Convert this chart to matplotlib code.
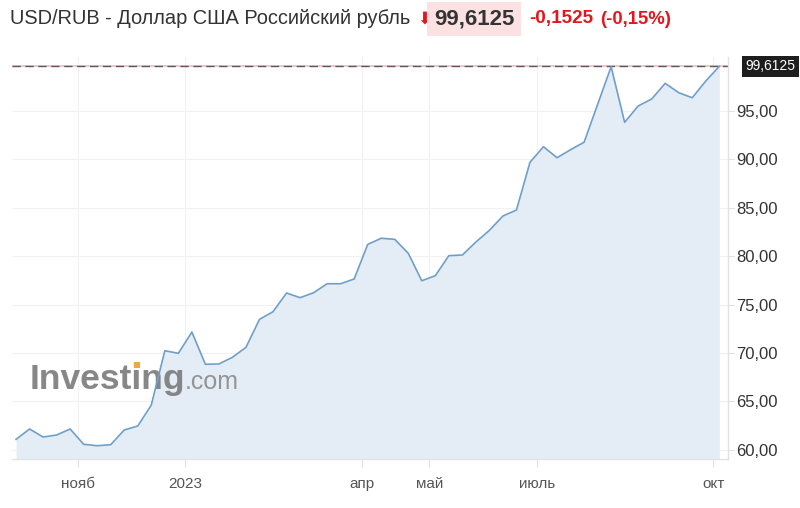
import matplotlib
matplotlib.use("Agg")
import matplotlib.pyplot as plt
from matplotlib.patches import Rectangle
import numpy as np

# weekly closes USD/RUB (index = week number)
closes = [61.07, 62.14, 61.31, 61.52, 62.14, 60.56, 60.41, 60.52, 62.04, 62.45,
          64.62, 70.23, 69.96, 72.16, 68.83, 68.86, 69.55, 70.58, 73.47, 74.26,
          76.19, 75.71, 76.22, 77.15, 77.15, 77.64, 81.21, 81.85, 81.74, 80.30,
          77.46, 77.98, 80.05, 80.12, 81.46, 82.67, 84.15, 84.77, 89.70, 91.31,
          90.17, 91.00, 91.77, 95.67, 99.58, 93.83, 95.52, 96.24, 97.86, 96.89,
          96.37, 98.10, 99.6125]
weeks = np.arange(len(closes))

month_pos = [4.56, 12.49, 25.56, 30.56, 38.5, 51.55]
month_labels = ["нояб", "2023", "апр", "май", "июль", "окт"]
y_ticks = [60, 65, 70, 75, 80, 85, 90, 95]

last = closes[-1]
change = -0.1525
change_pct = -0.15

LINE = "#6f9fc8"
FILL = "#e4edf6"
GRID = "#f1f1f1"
AXIS = "#e2e2e2"
TXT = "#333333"
RED = "#e8141c"

plt.rcParams["font.family"] = ["Liberation Sans", "DejaVu Sans"]

fig = plt.figure(figsize=(8, 5.08), dpi=100)
ax = fig.add_axes([12 / 800, 1 - 459 / 508, (727.7 - 12) / 800, (459 - 57) / 508])

ax.fill_between(weeks, closes, 59.04, color=FILL, lw=0, zorder=1)
ax.plot(weeks, closes, color=LINE, lw=1.2, zorder=3)

# last price line
ax.axhline(last, color="#f4b9c0", lw=1.2, zorder=2)
ax.axhline(last, color="#5a5a5a", lw=1.0, ls=(0, (6, 3.3)), zorder=2)

ax.set_xlim(-0.3, 52.62)
ax.set_ylim(59.04, 100.58)

ax.set_xticks(month_pos)
ax.set_xticklabels(month_labels)
ax.set_yticks(y_ticks)
ax.set_yticklabels([f"{v:.2f}".replace(".", ",") for v in y_ticks])
ax.yaxis.tick_right()
ax.tick_params(axis="y", length=4, width=0.8, color=AXIS, labelsize=12,
               labelcolor=TXT, pad=2)
ax.tick_params(axis="x", length=6, width=0.8, color=AXIS, labelsize=11,
               labelcolor="#555555", pad=7)
ax.grid(True, color=GRID, lw=0.8, zorder=0)
ax.set_axisbelow(True)

for side in ["top", "left"]:
    ax.spines[side].set_visible(False)
for side in ["bottom", "right"]:
    ax.spines[side].set_color(AXIS)
    ax.spines[side].set_linewidth(1.0)

# current value tag on the right axis
ax.text(1.025, last, f"{last:.4f}".replace(".", ","), transform=ax.get_yaxis_transform(),
        ha="left", va="center", color="white", fontsize=10,
        bbox=dict(boxstyle="square,pad=0.25", fc="#1e1e1e", ec="none"))

# watermark
ax.text(0.025, 0.174, "Investing", transform=ax.transAxes, fontsize=25.5,
        fontweight="bold", color="#7a7a7a", alpha=0.9, ha="left", va="baseline", zorder=2)
ax.text(0.242, 0.174, ".com", transform=ax.transAxes, fontsize=18,
        color="#8a8a8a", alpha=0.9, ha="left", va="baseline", zorder=2)
fig.patches.append(Rectangle((133.5 / 800, 1 - 368 / 508), 6.5 / 800, 6.5 / 508,
                             transform=fig.transFigure, fc="#f3a738", ec="none",
                             zorder=5))

# header
fig.text(10 / 800, 1 - 19 / 508, "USD/RUB - Доллар США Российский рубль",
         fontsize=14.4, color=TXT, ha="left", va="center")
fig.text(417 / 800, 1 - 19 / 508, "⬇", family=["DejaVu Sans"], fontsize=12,
         color=RED, ha="left", va="center")
fig.text(434 / 800, 1 - 19 / 508, f"{last:.4f}".replace(".", ","), fontsize=16,
         fontweight="bold", color=TXT, ha="left", va="center",
         bbox=dict(boxstyle="square,pad=0.3", fc="#fbe1e2", ec="none"))
fig.text(529 / 800, 1 - 19 / 508, f"{change:.4f}".replace(".", ","), fontsize=13.6,
         fontweight="bold", color=RED, ha="left", va="center")
fig.text(600 / 800, 1 - 19 / 508, f"({change_pct:.2f}%)".replace(".", ","), fontsize=13.3,
         fontweight="bold", color=RED, ha="left", va="center")

fig.savefig("out.png", dpi=100, facecolor="white")
